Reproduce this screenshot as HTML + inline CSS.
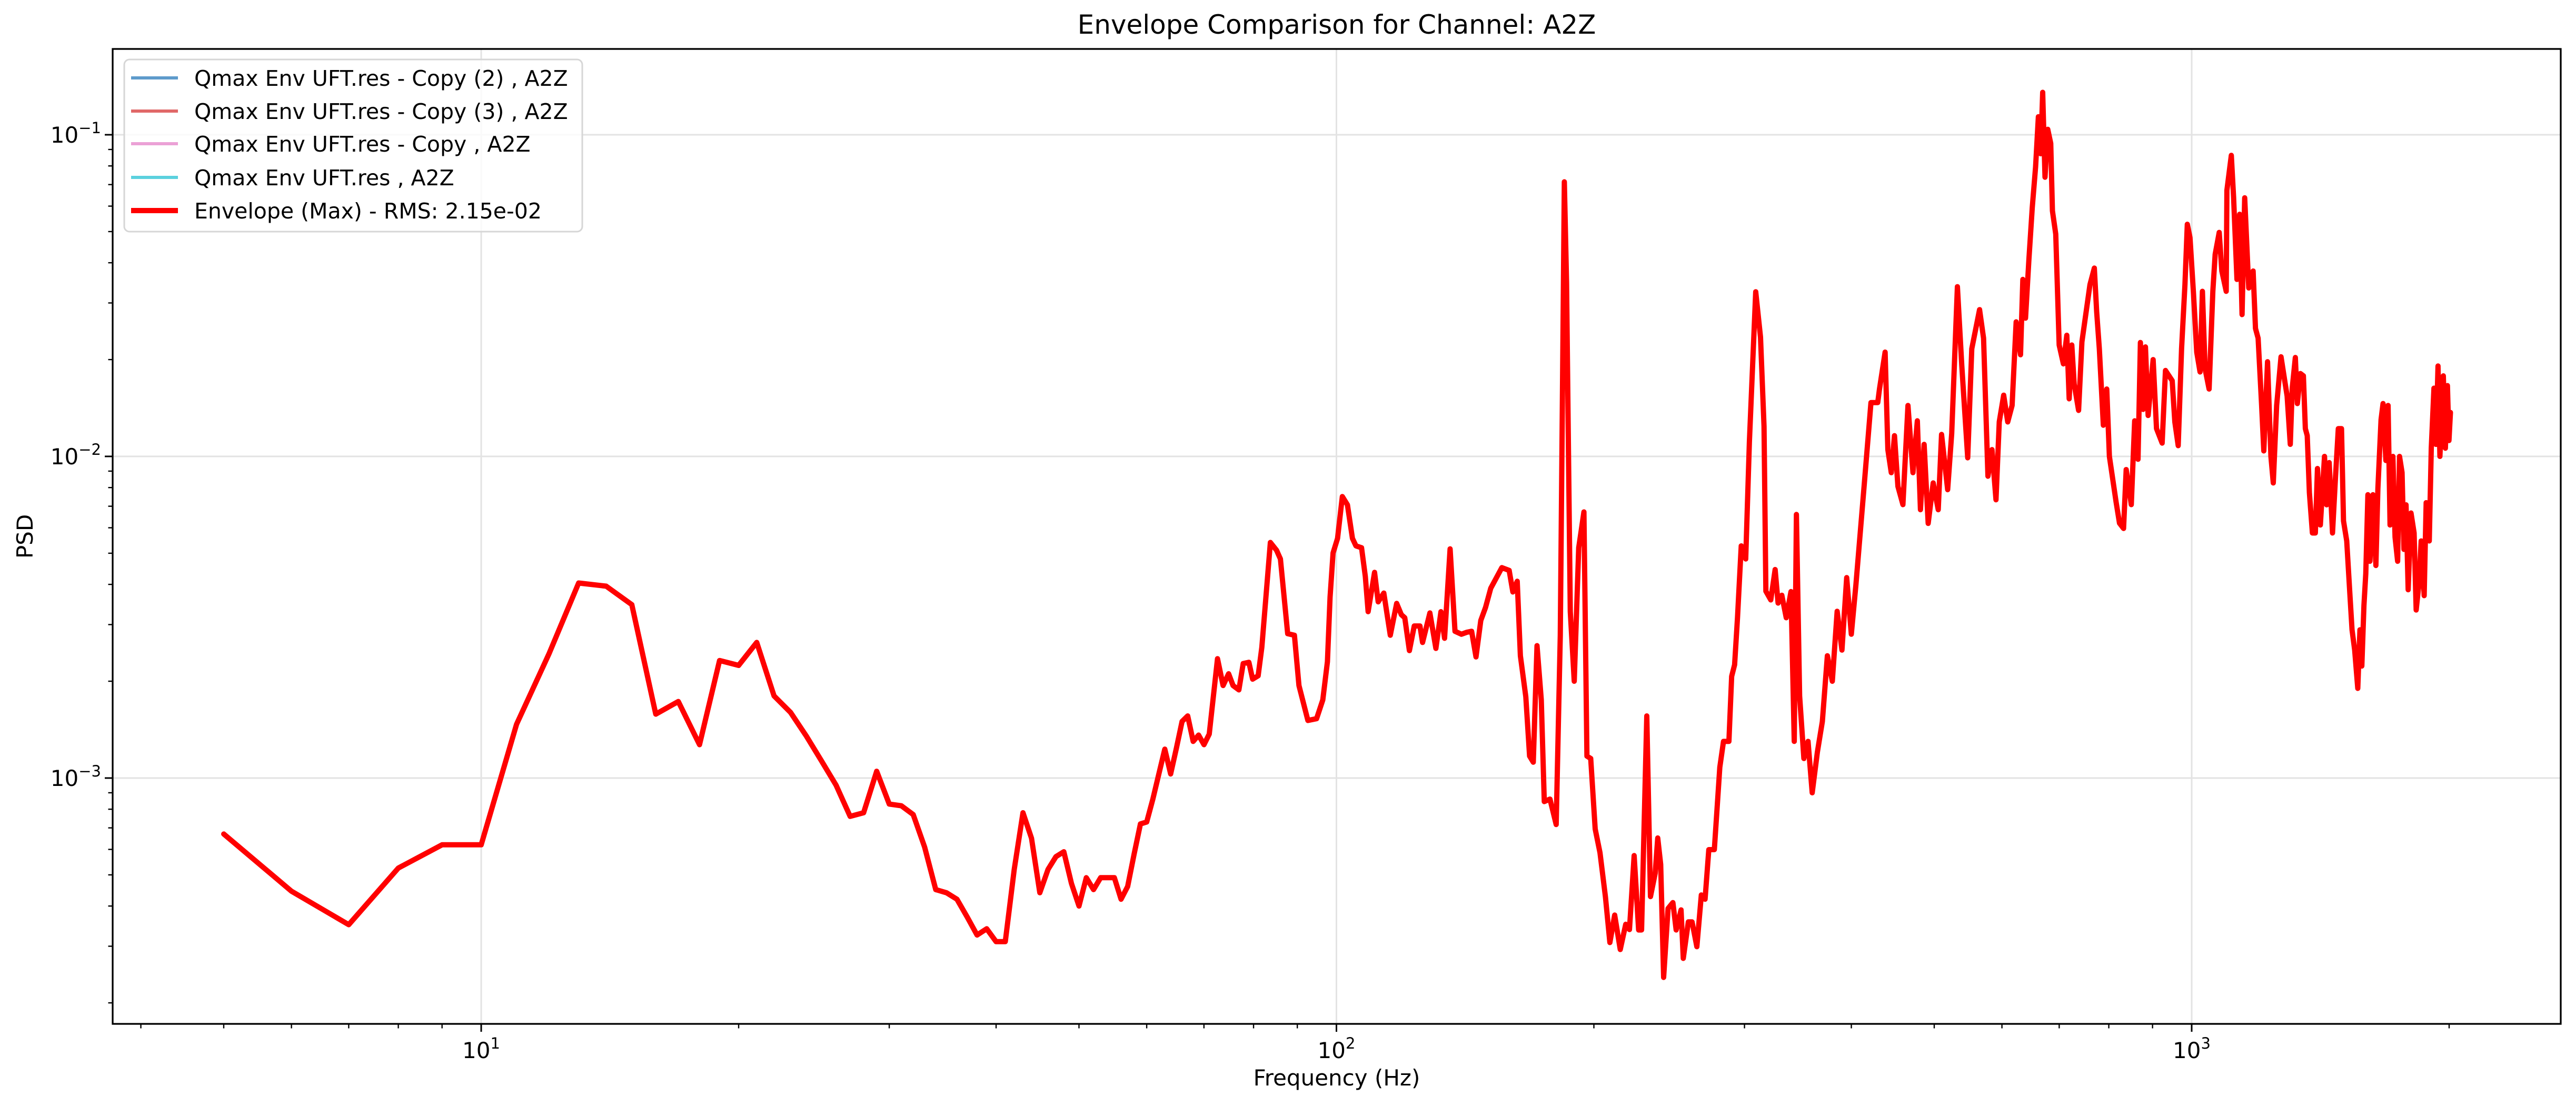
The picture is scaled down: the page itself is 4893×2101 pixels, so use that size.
<!DOCTYPE html>
<html><head><meta charset="utf-8"><title>Envelope Comparison for Channel: A2Z</title>
<style>
html,body{margin:0;padding:0;background:#fff;}
svg{display:block;font-family:"DejaVu Sans","Liberation Sans",sans-serif;}
</style></head>
<body>
<svg id="chart" xmlns="http://www.w3.org/2000/svg" width="4893" height="2101" viewBox="0 0 4893 2101">
<rect width="4893" height="2101" fill="#fff"/>
<text x="2539" y="64" font-size="50" text-anchor="middle" fill="#000">Envelope Comparison for Channel: A2Z</text>
<g id="grid"></g>
<g id="series"></g>
<rect x="214" y="93" width="4650" height="1852" fill="none" stroke="#000" stroke-width="3.3"/>
<g id="ticks"></g>
<text x="2539" y="2062" font-size="42" text-anchor="middle">Frequency (Hz)</text>
<text x="0" y="0" font-size="42" text-anchor="middle" transform="translate(62,1019) rotate(-90)">PSD</text>
<g>
<rect x="236" y="113" width="870" height="327" rx="10" fill="#fff" fill-opacity="0.8" stroke="#d6d6d6" stroke-width="3"/>
<line x1="249" y1="148" x2="338" y2="148" stroke="#5e9bcb" stroke-width="6"/>
<text x="369" y="163" font-size="41">Qmax Env UFT.res - Copy (2) , A2Z</text>
<line x1="249" y1="211" x2="338" y2="211" stroke="#e06868" stroke-width="6"/>
<text x="369" y="226" font-size="41">Qmax Env UFT.res - Copy (3) , A2Z</text>
<line x1="249" y1="273" x2="338" y2="273" stroke="#eba1d6" stroke-width="6"/>
<text x="369" y="288" font-size="41">Qmax Env UFT.res - Copy , A2Z</text>
<line x1="249" y1="337" x2="338" y2="337" stroke="#5bd1de" stroke-width="6"/>
<text x="369" y="352" font-size="41">Qmax Env UFT.res , A2Z</text>
<line x1="249" y1="400" x2="338" y2="400" stroke="#ff0000" stroke-width="10"/>
<text x="369" y="415" font-size="41">Envelope (Max) - RMS: 2.15e-02</text>
</g>
</svg>
<script>
const freqLow = [5,6,7,8,9,10,11,12,13,14,15,16,17,18,19,20,21,22,23,24,25,26,27,28,29,30,31,32,33,34,35,36,37,38,39,40,41,42,43,44,45,46,47,48,49,50,51,52,53,54,55,56,57,58,59,60,61,62,63,64,65,66,67,68,69,70,71];
const psdLow = [6.7e-4,4.45e-4,3.5e-4,5.25e-4,6.2e-4,6.2e-4,1.47e-3,2.43e-3,4.04e-3,3.95e-3,3.46e-3,1.58e-3,1.73e-3,1.27e-3,2.32e-3,2.24e-3,2.64e-3,1.8e-3,1.6e-3,1.35e-3,1.13e-3,9.5e-4,7.6e-4,7.8e-4,1.05e-3,8.3e-4,8.2e-4,7.7e-4,6.1e-4,4.5e-4,4.4e-4,4.2e-4,3.7e-4,3.25e-4,3.4e-4,3.1e-4,3.1e-4,5.2e-4,7.8e-4,6.5e-4,4.4e-4,5.2e-4,5.7e-4,5.9e-4,4.7e-4,4.0e-4,4.9e-4,4.5e-4,4.9e-4,4.9e-4,4.9e-4,4.2e-4,4.6e-4,5.8e-4,7.2e-4,7.3e-4,8.6e-4,1.03e-3,1.23e-3,1.03e-3,1.24e-3,1.5e-3,1.56e-3,1.3e-3,1.36e-3,1.27e-3,1.37e-3];
const freqMid = [72.6,73.7,74.8,75.7,76.9,77.8,79.0,79.8,81.0,81.8,83.7,85.1,86.0,87.7,89.3,90.4,92.6,94.8,96.4,97.6,98.3,99.1,100.3,101.6,103.0,104.4,105.4,107.0,108.1,108.9,110.8,111.9,113.6,115.6,117.6,119.1,120.2,121.7,123.3,125.2,126.1,128.6,130.7,132.5,133.8,135.8,137.6,140.0,142.1,143.9,145.6,147.5,149.4,151.5,156.1,159.2,160.8,162.7,164.1,166.5,168.2,169.9,171.6,173.6,175.0,177.7,180.7,182.7,184.0,184.7,185.8,187.7,189.7,192.0,194.7,196.3,198.3,200.7,203.3,206.3,208.8,211.5,214.7,217.9,220.1,222.9,225.6,227.4,230.6,232.9,235.9,237.5,239.4,241.3,244.2,247.4,249.6,252.9,254.4,257.9,260.5,263.9,267.1,269.8,272.5,276.6,280.7,283.5,287.7,289.8,292.1,294.4,297.4,301.0,304.0,309.2,313.2,316.2,317.8,322.0,325.8,328.4,331.7,335.7,340,343,345,348,352,356,360,365,370,375,380,385,390,395,400,405];
const psdMid = [2.35e-3,1.94e-3,2.11e-3,1.94e-3,1.88e-3,2.27e-3,2.29e-3,2.03e-3,2.08e-3,2.55e-3,5.40e-3,5.11e-3,4.80e-3,2.81e-3,2.78e-3,1.94e-3,1.51e-3,1.53e-3,1.75e-3,2.30e-3,3.65e-3,5.01e-3,5.56e-3,7.50e-3,7.07e-3,5.56e-3,5.27e-3,5.2e-3,4.23e-3,3.29e-3,4.36e-3,3.53e-3,3.76e-3,2.78e-3,3.49e-3,3.22e-3,3.15e-3,2.49e-3,2.97e-3,2.97e-3,2.64e-3,3.26e-3,2.53e-3,3.29e-3,2.72e-3,5.16e-3,2.86e-3,2.80e-3,2.84e-3,2.86e-3,2.38e-3,3.09e-3,3.39e-3,3.89e-3,4.51e-3,4.42e-3,3.79e-3,4.09e-3,2.40e-3,1.79e-3,1.17e-3,1.12e-3,2.58e-3,1.75e-3,8.45e-4,8.6e-4,7.17e-4,2.78e-3,2.28e-2,7.14e-2,3.47e-2,3.29e-3,2.0e-3,5.2e-3,6.72e-3,1.17e-3,1.15e-3,6.94e-4,5.86e-4,4.28e-4,3.08e-4,3.75e-4,2.93e-4,3.51e-4,3.38e-4,5.74e-4,3.37e-4,3.37e-4,1.56e-3,4.28e-4,5.06e-4,6.51e-4,5.39e-4,2.40e-4,3.93e-4,4.10e-4,3.37e-4,3.89e-4,2.75e-4,3.57e-4,3.57e-4,2.99e-4,4.33e-4,4.2e-4,5.99e-4,5.99e-4,1.08e-3,1.30e-3,1.30e-3,2.07e-3,2.25e-3,3.15e-3,5.27e-3,4.80e-3,1.11e-2,3.25e-2,2.35e-2,1.24e-2,3.81e-3,3.58e-3,4.45e-3,3.5e-3,3.7e-3,3.15e-3,3.8e-3,1.3e-3,6.6e-3,1.8e-3,1.15e-3,1.3e-3,9e-4,1.2e-3,1.5e-3,2.4e-3,2.0e-3,3.3e-3,2.5e-3,4.2e-3,2.8e-3,4.0e-3];
const freqHigh = [414.3,421.7,429.5,431.5,438.1,441.3,445.4,449.3,453.4,459.6,465.9,472.2,477.8,481.8,486.6,491.9,498.6,505.4,510.0,518.4,524.1,532.2,538.5,547.2,553.2,564.9,571.0,577.8,584.1,590.5,595.7,602.8,609.4,616.6,623.4,630.8,634.7,639.3,645.2,651.0,656.9,661.8,666.0,669.6,673.8,678.7,684.2,687.4,693.5,699.9,707.9,714.5,719.0,724.2,728.8,737.5,744.1,760.4,769.4,774.3,779.9,788.3,795.6,801.3,816.0,823.4,832.4,838.4,849.9,857.7,865.5,871.0,877.4,883.0,889.4,901.4,909.6,923.6,931.9,948.9,955.7,964.4,973.2,982.0,988.3,995.5,1004.6,1013.7,1022.8,1029.4,1036.8,1048.1,1058.6,1065.3,1076.9,1084.6,1097.5,1099.5,1112.6,1119.5,1129.7,1137.9,1145.2,1153.5,1166.0,1179.8,1187.4,1195.9,1206.8,1214.4,1226.6,1237.8,1245.7,1257.0,1271.9];
const psdHigh = [8.27e-3,1.47e-2,1.47e-2,1.62e-2,2.11e-2,1.05e-2,8.9e-3,1.16e-2,8.07e-3,7.08e-3,1.44e-2,8.9e-3,1.29e-2,6.83e-3,1.09e-2,6.19e-3,8.27e-3,6.83e-3,1.17e-2,7.88e-3,1.18e-2,3.37e-2,1.92e-2,9.9e-3,2.16e-2,2.86e-2,2.33e-2,8.68e-3,1.05e-2,7.33e-3,1.28e-2,1.55e-2,1.28e-2,1.44e-2,2.62e-2,2.07e-2,3.55e-2,2.69e-2,4.09e-2,5.94e-2,7.94e-2,0.1138,8.73e-2,0.1355,7.38e-2,0.104,9.4e-2,5.8e-2,4.91e-2,2.22e-2,1.94e-2,2.38e-2,1.51e-2,2.22e-2,1.68e-2,1.39e-2,2.27e-2,3.42e-2,3.85e-2,2.82e-2,2.16e-2,1.25e-2,1.62e-2,1.0e-2,7.2e-3,6.2e-3,5.97e-3,9.1e-3,7.08e-3,1.29e-2,9.8e-3,2.26e-2,1.40e-2,2.19e-2,1.34e-2,2.0e-2,1.22e-2,1.10e-2,1.85e-2,1.72e-2,1.28e-2,1.08e-2,2.16e-2,3.42e-2,5.27e-2,4.79e-2,3.26e-2,2.11e-2,1.83e-2,3.26e-2,1.87e-2,1.62e-2,3.26e-2,4.25e-2,4.97e-2,3.77e-2,3.26e-2,6.72e-2,8.63e-2,6.4e-2,3.55e-2,5.66e-2,2.76e-2,6.37e-2,3.34e-2,3.77e-2,2.5e-2,2.33e-2,1.47e-2,1.04e-2,1.97e-2,1.0e-2,8.27e-3,1.44e-2,2.04e-2];
const freqTop = [1293,1304,1311,1322,1329,1340,1351,1358,1365,1373,1384,1395,1403,1414,1430,1438,1448,1461,1473,1484,1497,1505,1518,1530,1540,1551,1564,1573,1581,1590,1598,1607,1616,1629,1642,1651,1665,1674,1687,1697,1706,1719,1729,1741,1750,1762,1771,1781,1791,1805,1820,1830,1845,1855,1870,1880,1896,1906,1920,1930,1941,1951,1969,1980,1991,1999,2007];
const psdTop = [1.54e-2,1.09e-2,1.63e-2,2.03e-2,1.46e-2,1.81e-2,1.78e-2,1.22e-2,1.16e-2,7.71e-3,5.78e-3,5.78e-3,9.17e-3,6.12e-3,1.0e-2,7.07e-3,9.57e-3,5.78e-3,8.64e-3,1.22e-2,1.22e-2,6.3e-3,5.46e-3,3.85e-3,2.89e-3,2.50e-3,1.90e-3,2.89e-3,2.23e-3,3.44e-3,4.32e-3,7.6e-3,4.72e-3,7.6e-3,4.58e-3,7.94e-3,1.30e-2,1.46e-2,9.71e-3,1.44e-2,6.12e-3,1.0e-2,5.61e-3,4.72e-3,1.0e-2,8.91e-3,5.14e-3,7.07e-3,3.85e-3,6.67e-3,5.78e-3,3.33e-3,4.08e-3,5.46e-3,3.69e-3,7.18e-3,5.46e-3,1.06e-2,1.63e-2,1.09e-2,1.91e-2,1.0e-2,1.78e-2,1.06e-2,1.66e-2,1.12e-2,1.37e-2];
const xTickLabels = ["1","2","3"];
const yTickLabels = ["-3","-2","-1"];

const NS = "http://www.w3.org/2000/svg";
const L = 214, R = 4864, T = 93, B = 1945;
function xScale(f){ return 914 + (Math.log10(f) - 1) * 1624.5; }
function yScale(v){ return 256 + (-1 - Math.log10(v)) * 611; }
function mk(tag, attrs, parent){ const e = document.createElementNS(NS, tag); for (const k in attrs) e.setAttribute(k, attrs[k]); parent.appendChild(e); return e; }

const grid = document.getElementById('grid');
const ticks = document.getElementById('ticks');
// x grid & ticks
for (const lab of xTickLabels) {
  const f = Math.pow(10, +lab);
  const x = xScale(f);
  const g = mk('line', {x1:x, y1:T, x2:x, y2:B, stroke:'#e3e3e3', 'stroke-width':3}, grid);
  
  
  const t = mk('line', {x1:x, y1:B, x2:x, y2:B+15, stroke:'#000', 'stroke-width':3}, ticks);
  
  
  const tx = mk('text', {x:x, y:2010, 'font-size':42, 'text-anchor':'middle'}, ticks);
  
  
  tx.textContent = '10';
  const sp = mk('tspan', {dy:-18, 'font-size':29}, tx);
  sp.textContent = lab;
}
for (let d = 0; d <= 3; d++) {
  for (let m = 2; m <= 9; m++) {
    const f = m * Math.pow(10, d);
    const x = xScale(f);
    if (x < L || x > R) continue;
    const t = mk('line', {x1:x, y1:B, x2:x, y2:B+8.5, stroke:'#000', 'stroke-width':2.4}, ticks);
    
    
  }
}
// y grid & ticks
for (const lab of yTickLabels) {
  const v = Math.pow(10, +lab);
  const y = yScale(v);
  const g = mk('line', {x1:L, y1:y, x2:R, y2:y, stroke:'#e3e3e3', 'stroke-width':3}, grid);
  
  
  const t = mk('line', {x1:L-15, y1:y, x2:L, y2:y, stroke:'#000', 'stroke-width':3}, ticks);
  
  
  const tx = mk('text', {x:L-22, y:y+15, 'font-size':42, 'text-anchor':'end'}, ticks);
  
  
  tx.textContent = '10';
  const sp = mk('tspan', {dy:-18, 'font-size':29}, tx);
  sp.textContent = lab.replace('-', '\u2212');
}
for (let d = -4; d <= -1; d++) {
  for (let m = 2; m <= 9; m++) {
    const v = m * Math.pow(10, d);
    const y = yScale(v);
    if (y < T || y > B) continue;
    const t = mk('line', {x1:L-8.5, y1:y, x2:L, y2:y, stroke:'#000', 'stroke-width':2.4}, ticks);
    
    
  }
}
// envelope series
const freqs = freqLow.concat(freqMid, freqHigh, freqTop);
const psds = psdLow.concat(psdMid, psdHigh, psdTop);
const pts = freqs.map((f, i) => xScale(f).toFixed(1) + ',' + yScale(psds[i]).toFixed(1)).join(' ');
const line = mk('polyline', {points:pts, fill:'none', stroke:'#ff0000', 'stroke-width':10, 'stroke-linejoin':'round', 'stroke-linecap':'round'}, document.getElementById('series'));


</script>
</body></html>
